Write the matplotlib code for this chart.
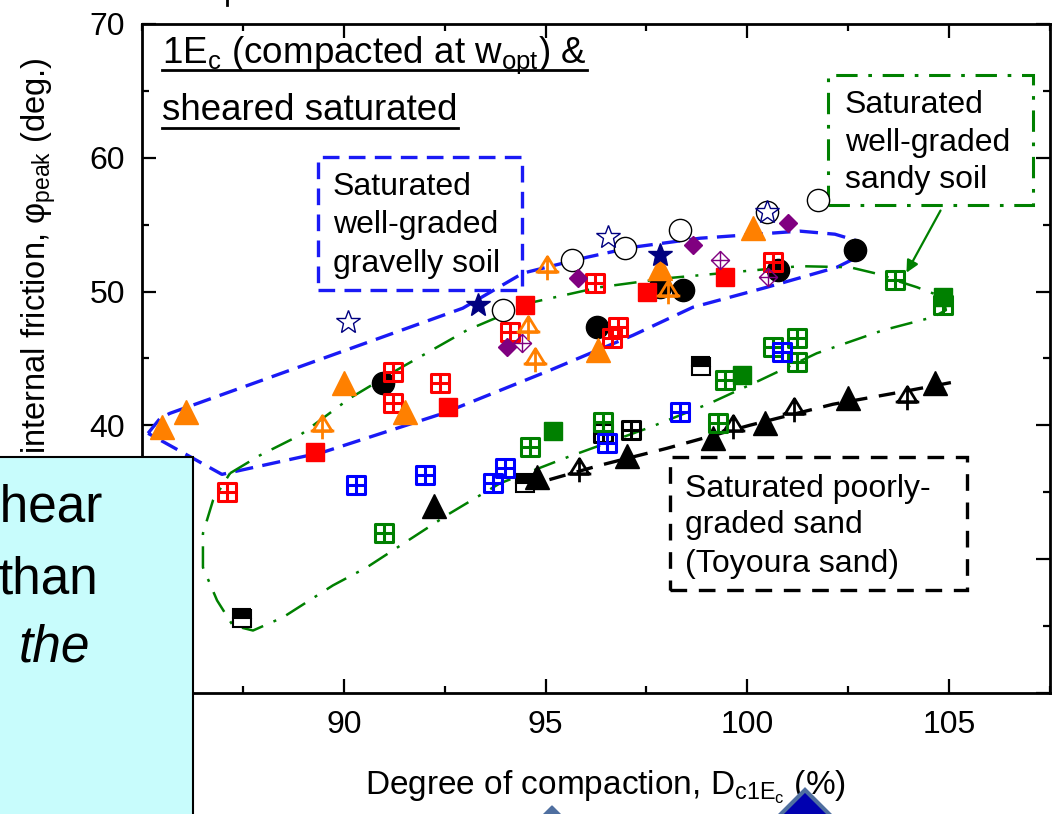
import matplotlib
matplotlib.use("Agg")
import matplotlib.pyplot as plt
from matplotlib.path import Path
from matplotlib.patches import Rectangle, Polygon
from matplotlib.lines import Line2D
from matplotlib.transforms import Affine2D
from matplotlib.ticker import MultipleLocator

plt.rcParams['font.family'] = ['Liberation Sans', 'DejaVu Sans']
plt.rcParams['mathtext.fontset'] = 'custom'
plt.rcParams['mathtext.rm'] = 'Liberation Sans'
plt.rcParams['mathtext.it'] = 'Liberation Sans:italic'

# degree of compaction (%) / peak friction angle (deg)
orange_tri_x = [85.50, 86.09, 90.00, 91.52, 96.30, 97.83, 100.14]
orange_tri_y = [39.86, 40.98, 43.15, 40.98, 45.62, 51.75, 54.74]
orange_tree_x = [89.46, 94.56, 94.74, 95.03, 98.03]
orange_tree_y = [39.86, 47.26, 44.87, 51.75, 49.96]
black_dot_x = [90.97, 96.27, 97.83, 98.40, 100.76, 102.67]
black_dot_y = [43.15, 47.34, 50.33, 50.10, 51.60, 53.10]
open_circ_x = [93.94, 95.65, 96.97, 98.33, 100.49, 101.75]
open_circ_y = [48.61, 52.35, 53.25, 54.59, 55.94, 56.84]
star_fill_x = [93.32, 97.83]
star_fill_y = [48.98, 52.72]
star_open_x = [90.10, 96.55, 100.49]
star_open_y = [47.71, 54.07, 55.94]
purple_dia_x = [94.04, 95.80, 98.65, 101.01]
purple_dia_y = [45.84, 51.00, 53.47, 55.12]
purple_xdia_x = [94.42, 99.32, 100.51]
purple_xdia_y = [46.14, 52.35, 51.08]
red_sq_x = [89.29, 92.58, 94.49, 97.51, 99.45]
red_sq_y = [37.99, 41.35, 48.98, 49.96, 51.08]
red_grid_x = [87.11, 91.22, 91.22, 92.38, 94.12, 96.22, 96.79, 96.65, 100.63]
red_grid_y = [35.00, 43.97, 41.65, 43.15, 46.96, 50.63, 47.34, 46.51, 52.20]
blue_grid_x = [90.30, 92.01, 93.70, 93.99, 96.52, 98.33, 100.86]
blue_grid_y = [35.52, 36.27, 35.67, 36.79, 38.66, 40.98, 45.47]
green_grid_x = [91.00, 94.61, 96.42, 99.45, 99.27, 100.63, 101.23, 101.23, 103.66, 104.85]
green_grid_y = [31.93, 38.36, 40.23, 43.37, 40.16, 45.84, 46.51, 44.72, 50.85, 48.98]
green_sq_x = [95.18, 99.87, 104.85]
green_sq_y = [39.56, 43.75, 49.58]
black_grid_x = [96.42, 97.12]
black_grid_y = [39.41, 39.63]
black_half_x = [87.48, 94.49, 98.85]
black_half_y = [25.57, 35.67, 44.42]
black_tri_x = [92.23, 94.79, 97.02, 99.15, 100.44, 102.49, 104.65]
black_tri_y = [33.95, 36.12, 37.69, 39.04, 40.16, 42.03, 43.15]
black_tree_x = [95.83, 99.64, 101.15, 103.95]
black_tree_y = [36.64, 39.86, 41.13, 42.03]

# envelopes
gravel_x = [85.15, 85.45, 85.69, 92.95, 94.44, 96.03, 97.17, 98.83, 101.30, 102.17,
            102.67, 102.86, 102.72, 102.22, 100.49, 98.65, 97.17, 95.11, 92.46, 89.48,
            86.98, 85.15]
gravel_y = [39.41, 40.53, 40.90, 48.76, 51.38, 52.57, 53.32, 53.99, 54.52, 54.29,
            53.84, 53.25, 52.57, 51.82, 50.33, 48.83, 46.74, 44.12, 40.90, 37.99,
            36.34, 39.41]
sandy_x = [87.18, 87.92, 88.91, 90.15, 91.39, 93.05, 94.69, 96.35, 98.01, 99.64,
           101.30, 102.54, 103.36, 103.66, 104.20, 104.85, 104.92, 104.60, 103.36,
           101.72, 100.31, 99.07, 97.59, 95.53, 93.87, 92.63, 90.57, 89.73, 88.49,
           87.75, 87.25, 86.86, 86.51, 86.51, 86.76, 87.18]
sandy_y = [36.42, 37.76, 39.26, 42.03, 44.27, 47.11, 49.21, 50.33, 51.00, 51.45,
           51.90, 51.82, 51.23, 50.85, 50.33, 49.58, 48.61, 48.09, 47.11,
           45.39, 43.37, 41.65, 39.86, 37.61, 35.67, 33.43, 29.39, 28.04, 25.65,
           24.67, 25.05, 26.92, 29.39, 31.93, 34.40, 36.42]
toyoura_x = [94.42, 96.35, 98.01, 100.06, 102.12, 103.78, 105.22]
toyoura_y = [35.37, 37.02, 38.29, 40.01, 41.58, 42.48, 43.30]

W, H = 1052, 814
fig = plt.figure(figsize=(W / 100, H / 100), dpi=100)
ax = fig.add_axes([142 / W, 1 - 693 / H, 908 / W, 669 / H])
px = Affine2D().scale(1 / W, -1 / H).translate(0, 1) + fig.transFigure

M, L, C = Path.MOVETO, Path.LINETO, Path.CLOSEPOLY
grid_sq = Path([(-1, -1), (1, -1), (1, 1), (-1, 1), (-1, -1), (0, -1), (0, 1), (-1, 0), (1, 0)],
               [M, L, L, L, C, M, L, M, L])
tree = Path([(0, 1), (-0.8, -0.3), (0.8, -0.3), (0, 1), (0, 1), (0, -1), (-1, -0.3), (1, -0.3)],
            [M, L, L, C, M, L, M, L])
xdia = Path([(0, 1), (1, 0), (0, -1), (-1, 0), (0, 1), (0, 1), (0, -1), (-1, 0), (1, 0)],
            [M, L, L, L, C, M, L, M, L])

ORANGE, RED, GREEN, BLUE, NAVY, PURPLE = '#FF8000', '#FF0000', '#008000', '#0000FF', '#000080', '#800080'

# envelopes
ax.plot(gravel_x, gravel_y, color='#1A1AF5', lw=2.4, ls=(0, (5.5, 2.8)), zorder=2)
ax.plot(sandy_x, sandy_y, color=GREEN, lw=1.8, ls=(0, (9, 4.5, 1.2, 4.5)), zorder=2)
ax.plot(toyoura_x, toyoura_y, color='k', lw=2.4, ls=(0, (5, 3.5)), zorder=2)


def pts(x, y, **kw):
    ax.plot(x, y, ls='none', zorder=4, **kw)


pts(black_half_x, black_half_y, marker='s', ms=12.5, fillstyle='top', mfc='k', mfcalt='w', mec='k', mew=1.5)
pts(black_tri_x, black_tri_y, marker='^', ms=17, color='k')
pts(black_tree_x, black_tree_y, marker=tree, ms=17, mfc='none', mec='k', mew=2)
pts(black_grid_x, black_grid_y, marker=grid_sq, ms=13.5, mfc='none', mec='k', mew=2.2)
pts(green_sq_x, green_sq_y, marker='s', ms=13.5, color=GREEN)
pts(green_grid_x, green_grid_y, marker=grid_sq, ms=13.5, mfc='none', mec=GREEN, mew=2.2)
pts(blue_grid_x, blue_grid_y, marker=grid_sq, ms=13.5, mfc='none', mec=BLUE, mew=2.2)
pts(black_dot_x, black_dot_y, marker='o', ms=16, color='k')
pts(open_circ_x, open_circ_y, marker='o', ms=16, mfc='w', mec='k', mew=1)
pts(red_sq_x, red_sq_y, marker='s', ms=13.5, color=RED)
pts(red_grid_x, red_grid_y, marker=grid_sq, ms=13.5, mfc='none', mec=RED, mew=2.2)
pts(purple_dia_x, purple_dia_y, marker='D', ms=9.5, color=PURPLE)
pts(purple_xdia_x, purple_xdia_y, marker=xdia, ms=13, mfc='none', mec=PURPLE, mew=1)
pts(orange_tri_x, orange_tri_y, marker='^', ms=17, color=ORANGE)
pts(orange_tree_x, orange_tree_y, marker=tree, ms=17, mfc='none', mec=ORANGE, mew=2)
pts(star_fill_x, star_fill_y, marker='*', ms=18, color=NAVY)
pts(star_open_x, star_open_y, marker='*', ms=18, mfc='none', mec=NAVY, mew=1)

ax.set_xlim(85, 107.5)
ax.set_ylim(20, 70)
ax.set_xticks([90, 95, 100, 105])
ax.set_yticks([20, 30, 40, 50, 60, 70])
ax.xaxis.set_minor_locator(MultipleLocator(2.5))
ax.yaxis.set_minor_locator(MultipleLocator(5))
ax.tick_params(which='both', direction='in', top=True, right=True, width=1.6)
ax.tick_params(which='major', length=10, labelsize=23)
ax.tick_params(axis='x', which='major', pad=12)
ax.tick_params(axis='y', which='major', pad=12)
ax.tick_params(which='minor', length=5)
for s in ax.spines.values():
    s.set_linewidth(2)

# annotation boxes
box_kw = dict(fill=False, zorder=3, clip_on=False)
ax.add_patch(Rectangle((89.36, 50.10), 5.06, 9.95, ec='#1A1AF5', lw=2.4, ls=(0, (5, 2.8)), **box_kw))
ax.add_patch(Rectangle((102.0, 56.46), 5.08, 9.73, ec=GREEN, lw=2.2, ls=(0, (7, 3.5, 1.2, 3.5)), **box_kw))
ax.add_patch(Rectangle((98.08, 27.67), 7.36, 9.94, ec='k', lw=2.4, ls=(0, (5, 3.5)), **box_kw))

for txt, x0, ys in [(['Saturated', 'well-graded', 'gravelly soil'], 89.73, [57.21, 54.37, 51.45]),
                    (['Saturated', 'well-graded', 'sandy soil'], 102.42, [63.34, 60.50, 57.73]),
                    (['Saturated poorly-', 'graded sand', '(Toyoura sand)'], 98.45, [34.62, 31.93, 29.01])]:
    for t, y in zip(txt, ys):
        ax.text(x0, y, t, fontsize=23, va='baseline', ha='left', zorder=5)

ax.annotate('', xy=(103.91, 51.23), xytext=(104.82, 56.24),
            arrowprops=dict(arrowstyle='-|>', color=GREEN, lw=1.6, mutation_scale=18), zorder=5)

# underlined title
t1 = ax.text(85.50, 67.08, r'1E$_\mathregular{c}$ (compacted at w$_\mathregular{opt}$) &',
             fontsize=26.5, va='baseline', ha='left')
t2 = ax.text(85.50, 62.82, 'sheared saturated', fontsize=26.5, va='baseline', ha='left')
fig.canvas.draw()
r = fig.canvas.get_renderer()
inv = ax.transData.inverted()
for t, uy in [(t1, 66.56), (t2, 62.22)]:
    bb = t.get_window_extent(r)
    x1 = inv.transform((bb.x1, 0))[0]
    ax.plot([85.50, x1], [uy, uy], color='k', lw=2, zorder=5)

# axis labels
fig.text(365, 795, r'Degree of compaction, D$_{\mathregular{c1E}_\mathregular{c}}$ (%)',
         transform=px, fontsize=24, ha='left', va='baseline')
fig.text(19, 58, 'internal friction, \u03c6$_\\mathregular{peak}$ (deg.)',
         transform=px, fontsize=23.5, rotation=90, ha='left', va='top')

# overlapping slide elements
fig.add_artist(Rectangle((-5, 457), 198, 400, transform=px, fc='#C8FCFC', ec='k', lw=1.5, zorder=10))
for word, x, y, style in [('shear', 103, 522, 'normal'), ('than', 98, 593, 'normal'), ('the', 90, 662, 'italic')]:
    fig.text(x, y, word, transform=px, fontsize=37, style=style, ha='right', va='baseline', zorder=11)
fig.add_artist(Polygon([(552, 806), (575, 829), (552, 852), (529, 829)], closed=True, transform=px,
                       fc='#4F6FA0', ec='#4F6FA0', zorder=10))
fig.add_artist(Polygon([(805, 790), (835, 820), (805, 850), (775, 820)], closed=True, transform=px,
                       fc='#0000B0', ec='#4F6FA0', lw=3, zorder=10))
fig.add_artist(Line2D([227, 227], [0, 5], transform=px, color='k', lw=2))

fig.savefig('out.png', dpi=100)
